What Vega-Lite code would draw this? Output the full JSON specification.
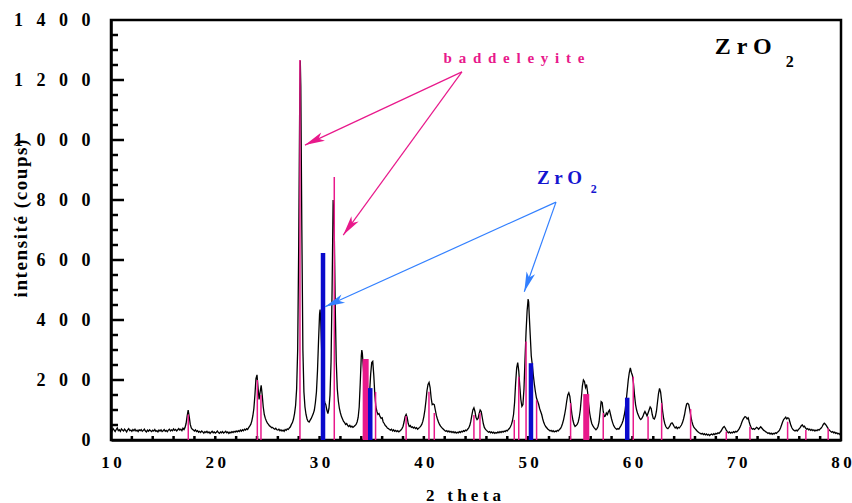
{
  "$schema": "https://vega.github.io/schema/vega-lite/v6.json",
  "width": 730,
  "height": 420,
  "autosize": "none",
  "padding": {"left": 111, "top": 20, "right": 11, "bottom": 63},
  "background": "white",
  "config": {"view": {"stroke": "black", "strokeWidth": 2.5}},
  "resolve": {"scale": {"x": "shared", "y": "shared"}, "axis": {"x": "independent", "y": "independent"}},
  "datasets": {
    "pattern": [
      {"t":10.0,"c":36},{"t":10.1,"c":30},{"t":10.2,"c":38},{"t":10.3,"c":33},{"t":10.4,"c":28},{"t":10.5,"c":35},{"t":10.6,"c":40},{"t":10.7,"c":31},{"t":10.8,"c":34},{"t":10.9,"c":29},
      {"t":11.0,"c":37},{"t":11.1,"c":33},{"t":11.2,"c":30},{"t":11.3,"c":36},{"t":11.4,"c":32},{"t":11.5,"c":27},{"t":11.6,"c":34},{"t":11.7,"c":38},{"t":11.8,"c":31},{"t":11.9,"c":33},
      {"t":12.0,"c":29},{"t":12.1,"c":35},{"t":12.2,"c":31},{"t":12.3,"c":36},{"t":12.4,"c":30},{"t":12.5,"c":33},{"t":12.6,"c":28},{"t":12.7,"c":34},{"t":12.8,"c":31},{"t":12.9,"c":35},
      {"t":13.0,"c":29},{"t":13.1,"c":32},{"t":13.2,"c":36},{"t":13.3,"c":30},{"t":13.4,"c":27},{"t":13.5,"c":33},{"t":13.6,"c":29},{"t":13.7,"c":34},{"t":13.8,"c":31},{"t":13.9,"c":28},
      {"t":14.0,"c":33},{"t":14.1,"c":30},{"t":14.2,"c":35},{"t":14.3,"c":29},{"t":14.4,"c":31},{"t":14.5,"c":27},{"t":14.6,"c":33},{"t":14.7,"c":30},{"t":14.8,"c":34},{"t":14.9,"c":28},
      {"t":15.0,"c":31},{"t":15.1,"c":35},{"t":15.2,"c":29},{"t":15.3,"c":32},{"t":15.4,"c":28},{"t":15.5,"c":33},{"t":15.6,"c":36},{"t":15.7,"c":30},{"t":15.8,"c":34},{"t":15.9,"c":31},
      {"t":16.0,"c":37},{"t":16.1,"c":32},{"t":16.2,"c":35},{"t":16.3,"c":30},{"t":16.4,"c":34},{"t":16.5,"c":38},{"t":16.6,"c":33},{"t":16.7,"c":36},{"t":16.8,"c":31},{"t":16.9,"c":39},
      {"t":17.0,"c":35},{"t":17.1,"c":42},{"t":17.2,"c":55},{"t":17.3,"c":80},{"t":17.4,"c":100},{"t":17.5,"c":78},{"t":17.6,"c":52},{"t":17.7,"c":40},{"t":17.8,"c":36},{"t":17.9,"c":33},
      {"t":18.0,"c":30},{"t":18.1,"c":34},{"t":18.2,"c":28},{"t":18.3,"c":31},{"t":18.4,"c":26},{"t":18.5,"c":29},{"t":18.6,"c":25},{"t":18.7,"c":30},{"t":18.8,"c":27},{"t":18.9,"c":23},
      {"t":19.0,"c":28},{"t":19.1,"c":25},{"t":19.2,"c":29},{"t":19.3,"c":24},{"t":19.4,"c":27},{"t":19.5,"c":22},{"t":19.6,"c":26},{"t":19.7,"c":29},{"t":19.8,"c":24},{"t":19.9,"c":27},
      {"t":20.0,"c":23},{"t":20.1,"c":26},{"t":20.2,"c":30},{"t":20.3,"c":25},{"t":20.4,"c":22},{"t":20.5,"c":27},{"t":20.6,"c":24},{"t":20.7,"c":28},{"t":20.8,"c":23},{"t":20.9,"c":26},
      {"t":21.0,"c":29},{"t":21.1,"c":24},{"t":21.2,"c":27},{"t":21.3,"c":22},{"t":21.4,"c":26},{"t":21.5,"c":24},{"t":21.6,"c":28},{"t":21.7,"c":25},{"t":21.8,"c":29},{"t":21.9,"c":26},
      {"t":22.0,"c":30},{"t":22.1,"c":27},{"t":22.2,"c":31},{"t":22.3,"c":28},{"t":22.4,"c":33},{"t":22.5,"c":29},{"t":22.6,"c":34},{"t":22.7,"c":31},{"t":22.8,"c":36},{"t":22.9,"c":33},
      {"t":23.0,"c":38},{"t":23.1,"c":35},{"t":23.2,"c":41},{"t":23.3,"c":46},{"t":23.4,"c":52},{"t":23.5,"c":63},{"t":23.6,"c":80},{"t":23.7,"c":105},{"t":23.8,"c":150},{"t":23.9,"c":205},
      {"t":24.0,"c":217},{"t":24.1,"c":175},{"t":24.2,"c":135},{"t":24.3,"c":160},{"t":24.4,"c":182},{"t":24.5,"c":150},{"t":24.6,"c":110},{"t":24.7,"c":85},{"t":24.8,"c":72},{"t":24.9,"c":63},
      {"t":25.0,"c":56},{"t":25.1,"c":52},{"t":25.2,"c":47},{"t":25.3,"c":45},{"t":25.4,"c":41},{"t":25.5,"c":42},{"t":25.6,"c":38},{"t":25.7,"c":36},{"t":25.8,"c":39},{"t":25.9,"c":34},
      {"t":26.0,"c":33},{"t":26.1,"c":36},{"t":26.2,"c":31},{"t":26.3,"c":34},{"t":26.4,"c":30},{"t":26.5,"c":33},{"t":26.6,"c":29},{"t":26.7,"c":35},{"t":26.8,"c":32},{"t":26.9,"c":37},
      {"t":27.0,"c":35},{"t":27.1,"c":40},{"t":27.2,"c":44},{"t":27.3,"c":52},{"t":27.4,"c":58},{"t":27.5,"c":70},{"t":27.6,"c":88},{"t":27.7,"c":115},{"t":27.8,"c":170},{"t":27.9,"c":300},
      {"t":28.0,"c":650},{"t":28.1,"c":1150},{"t":28.15,"c":1265},{"t":28.2,"c":1180},{"t":28.3,"c":700},{"t":28.4,"c":300},{"t":28.5,"c":160},{"t":28.6,"c":110},{"t":28.7,"c":85},{"t":28.8,"c":70},{"t":28.9,"c":62},
      {"t":29.0,"c":60},{"t":29.1,"c":66},{"t":29.2,"c":72},{"t":29.3,"c":80},{"t":29.4,"c":88},{"t":29.5,"c":100},{"t":29.6,"c":125},{"t":29.7,"c":160},{"t":29.8,"c":230},{"t":29.9,"c":330},
      {"t":30.0,"c":420},{"t":30.05,"c":435},{"t":30.1,"c":410},{"t":30.2,"c":300},{"t":30.3,"c":190},{"t":30.4,"c":140},{"t":30.5,"c":125},{"t":30.6,"c":118},{"t":30.7,"c":100},{"t":30.8,"c":88},{"t":30.9,"c":105},
      {"t":31.0,"c":150},{"t":31.1,"c":260},{"t":31.2,"c":500},{"t":31.3,"c":800},{"t":31.4,"c":720},{"t":31.5,"c":450},{"t":31.6,"c":260},{"t":31.7,"c":170},{"t":31.8,"c":130},{"t":31.9,"c":105},
      {"t":32.0,"c":90},{"t":32.1,"c":78},{"t":32.2,"c":70},{"t":32.3,"c":62},{"t":32.4,"c":58},{"t":32.5,"c":52},{"t":32.6,"c":55},{"t":32.7,"c":48},{"t":32.8,"c":45},{"t":32.9,"c":49},
      {"t":33.0,"c":43},{"t":33.1,"c":46},{"t":33.2,"c":42},{"t":33.3,"c":45},{"t":33.4,"c":48},{"t":33.5,"c":52},{"t":33.6,"c":60},{"t":33.7,"c":75},{"t":33.8,"c":110},{"t":33.9,"c":190},
      {"t":34.0,"c":280},{"t":34.05,"c":300},{"t":34.1,"c":290},{"t":34.2,"c":240},{"t":34.3,"c":180},{"t":34.4,"c":140},{"t":34.5,"c":120},{"t":34.6,"c":112},{"t":34.7,"c":125},{"t":34.8,"c":160},{"t":34.9,"c":220},
      {"t":35.0,"c":258},{"t":35.1,"c":262},{"t":35.2,"c":215},{"t":35.3,"c":150},{"t":35.4,"c":110},{"t":35.5,"c":95},{"t":35.6,"c":85},{"t":35.7,"c":88},{"t":35.8,"c":78},{"t":35.9,"c":72},
      {"t":36.0,"c":74},{"t":36.1,"c":60},{"t":36.2,"c":55},{"t":36.3,"c":48},{"t":36.4,"c":45},{"t":36.5,"c":40},{"t":36.6,"c":38},{"t":36.7,"c":35},{"t":36.8,"c":33},{"t":36.9,"c":36},
      {"t":37.0,"c":30},{"t":37.1,"c":34},{"t":37.2,"c":29},{"t":37.3,"c":32},{"t":37.4,"c":28},{"t":37.5,"c":31},{"t":37.6,"c":27},{"t":37.7,"c":30},{"t":37.8,"c":33},{"t":37.9,"c":38},
      {"t":38.0,"c":45},{"t":38.1,"c":60},{"t":38.2,"c":78},{"t":38.3,"c":85},{"t":38.4,"c":75},{"t":38.5,"c":55},{"t":38.6,"c":45},{"t":38.7,"c":48},{"t":38.8,"c":42},{"t":38.9,"c":44},
      {"t":39.0,"c":40},{"t":39.1,"c":43},{"t":39.2,"c":38},{"t":39.3,"c":41},{"t":39.4,"c":36},{"t":39.5,"c":39},{"t":39.6,"c":42},{"t":39.7,"c":46},{"t":39.8,"c":52},{"t":39.9,"c":62},
      {"t":40.0,"c":78},{"t":40.1,"c":100},{"t":40.2,"c":130},{"t":40.3,"c":165},{"t":40.4,"c":185},{"t":40.5,"c":192},{"t":40.6,"c":175},{"t":40.7,"c":140},{"t":40.8,"c":118},{"t":40.9,"c":120},
      {"t":41.0,"c":118},{"t":41.1,"c":100},{"t":41.2,"c":82},{"t":41.3,"c":70},{"t":41.4,"c":60},{"t":41.5,"c":52},{"t":41.6,"c":46},{"t":41.7,"c":42},{"t":41.8,"c":38},{"t":41.9,"c":35},
      {"t":42.0,"c":32},{"t":42.1,"c":29},{"t":42.2,"c":31},{"t":42.3,"c":27},{"t":42.4,"c":30},{"t":42.5,"c":26},{"t":42.6,"c":29},{"t":42.7,"c":25},{"t":42.8,"c":28},{"t":42.9,"c":24},
      {"t":43.0,"c":27},{"t":43.1,"c":23},{"t":43.2,"c":26},{"t":43.3,"c":24},{"t":43.4,"c":28},{"t":43.5,"c":25},{"t":43.6,"c":29},{"t":43.7,"c":27},{"t":43.8,"c":31},{"t":43.9,"c":29},
      {"t":44.0,"c":33},{"t":44.1,"c":31},{"t":44.2,"c":36},{"t":44.3,"c":40},{"t":44.4,"c":48},{"t":44.5,"c":62},{"t":44.6,"c":82},{"t":44.7,"c":100},{"t":44.8,"c":107},{"t":44.9,"c":95},
      {"t":45.0,"c":75},{"t":45.1,"c":68},{"t":45.2,"c":72},{"t":45.3,"c":88},{"t":45.4,"c":100},{"t":45.5,"c":95},{"t":45.6,"c":75},{"t":45.7,"c":55},{"t":45.8,"c":42},{"t":45.9,"c":36},
      {"t":46.0,"c":32},{"t":46.1,"c":29},{"t":46.2,"c":26},{"t":46.3,"c":28},{"t":46.4,"c":24},{"t":46.5,"c":27},{"t":46.6,"c":23},{"t":46.7,"c":26},{"t":46.8,"c":22},{"t":46.9,"c":25},
      {"t":47.0,"c":23},{"t":47.1,"c":27},{"t":47.2,"c":24},{"t":47.3,"c":28},{"t":47.4,"c":25},{"t":47.5,"c":29},{"t":47.6,"c":26},{"t":47.7,"c":30},{"t":47.8,"c":28},{"t":47.9,"c":32},
      {"t":48.0,"c":30},{"t":48.1,"c":35},{"t":48.2,"c":38},{"t":48.3,"c":44},{"t":48.4,"c":52},{"t":48.5,"c":65},{"t":48.6,"c":85},{"t":48.7,"c":125},{"t":48.8,"c":190},{"t":48.9,"c":240},
      {"t":49.0,"c":258},{"t":49.1,"c":230},{"t":49.2,"c":180},{"t":49.3,"c":135},{"t":49.4,"c":112},{"t":49.5,"c":118},{"t":49.6,"c":170},{"t":49.7,"c":270},{"t":49.8,"c":360},{"t":49.9,"c":430},
      {"t":50.0,"c":470},{"t":50.05,"c":460},{"t":50.1,"c":420},{"t":50.2,"c":350},{"t":50.3,"c":280},{"t":50.4,"c":250},{"t":50.5,"c":215},{"t":50.6,"c":185},{"t":50.7,"c":160},{"t":50.8,"c":140},{"t":50.9,"c":130},
      {"t":51.0,"c":120},{"t":51.1,"c":105},{"t":51.2,"c":95},{"t":51.3,"c":85},{"t":51.4,"c":70},{"t":51.5,"c":58},{"t":51.6,"c":50},{"t":51.7,"c":44},{"t":51.8,"c":40},{"t":51.9,"c":36},
      {"t":52.0,"c":33},{"t":52.1,"c":30},{"t":52.2,"c":32},{"t":52.3,"c":28},{"t":52.4,"c":31},{"t":52.5,"c":27},{"t":52.6,"c":30},{"t":52.7,"c":28},{"t":52.8,"c":32},{"t":52.9,"c":30},
      {"t":53.0,"c":35},{"t":53.1,"c":38},{"t":53.2,"c":45},{"t":53.3,"c":55},{"t":53.4,"c":68},{"t":53.5,"c":85},{"t":53.6,"c":105},{"t":53.7,"c":130},{"t":53.8,"c":150},{"t":53.9,"c":157},
      {"t":54.0,"c":145},{"t":54.1,"c":115},{"t":54.2,"c":85},{"t":54.3,"c":65},{"t":54.4,"c":52},{"t":54.5,"c":45},{"t":54.6,"c":48},{"t":54.7,"c":52},{"t":54.8,"c":60},{"t":54.9,"c":75},
      {"t":55.0,"c":100},{"t":55.1,"c":140},{"t":55.2,"c":180},{"t":55.3,"c":200},{"t":55.4,"c":195},{"t":55.5,"c":175},{"t":55.6,"c":185},{"t":55.7,"c":160},{"t":55.8,"c":120},{"t":55.9,"c":90},
      {"t":56.0,"c":70},{"t":56.1,"c":55},{"t":56.2,"c":48},{"t":56.3,"c":42},{"t":56.4,"c":38},{"t":56.5,"c":34},{"t":56.6,"c":38},{"t":56.7,"c":45},{"t":56.8,"c":60},{"t":56.9,"c":95},
      {"t":57.0,"c":128},{"t":57.1,"c":125},{"t":57.2,"c":95},{"t":57.3,"c":78},{"t":57.4,"c":80},{"t":57.5,"c":90},{"t":57.6,"c":85},{"t":57.7,"c":95},{"t":57.8,"c":100},{"t":57.9,"c":85},
      {"t":58.0,"c":70},{"t":58.1,"c":58},{"t":58.2,"c":48},{"t":58.3,"c":42},{"t":58.4,"c":38},{"t":58.5,"c":35},{"t":58.6,"c":38},{"t":58.7,"c":36},{"t":58.8,"c":42},{"t":58.9,"c":48},
      {"t":59.0,"c":55},{"t":59.1,"c":65},{"t":59.2,"c":80},{"t":59.3,"c":100},{"t":59.4,"c":130},{"t":59.5,"c":165},{"t":59.6,"c":200},{"t":59.7,"c":225},{"t":59.8,"c":240},{"t":59.9,"c":225},
      {"t":60.0,"c":215},{"t":60.1,"c":190},{"t":60.2,"c":150},{"t":60.3,"c":118},{"t":60.4,"c":100},{"t":60.5,"c":88},{"t":60.6,"c":80},{"t":60.7,"c":72},{"t":60.8,"c":68},{"t":60.9,"c":72},
      {"t":61.0,"c":78},{"t":61.1,"c":88},{"t":61.2,"c":95},{"t":61.3,"c":88},{"t":61.4,"c":80},{"t":61.5,"c":90},{"t":61.6,"c":100},{"t":61.7,"c":110},{"t":61.8,"c":105},{"t":61.9,"c":85},
      {"t":62.0,"c":72},{"t":62.1,"c":70},{"t":62.2,"c":78},{"t":62.3,"c":95},{"t":62.4,"c":125},{"t":62.5,"c":155},{"t":62.6,"c":172},{"t":62.7,"c":160},{"t":62.8,"c":130},{"t":62.9,"c":95},
      {"t":63.0,"c":70},{"t":63.1,"c":55},{"t":63.2,"c":45},{"t":63.3,"c":40},{"t":63.4,"c":38},{"t":63.5,"c":42},{"t":63.6,"c":48},{"t":63.7,"c":55},{"t":63.8,"c":57},{"t":63.9,"c":52},
      {"t":64.0,"c":45},{"t":64.1,"c":40},{"t":64.2,"c":44},{"t":64.3,"c":38},{"t":64.4,"c":42},{"t":64.5,"c":40},{"t":64.6,"c":45},{"t":64.7,"c":50},{"t":64.8,"c":58},{"t":64.9,"c":70},
      {"t":65.0,"c":85},{"t":65.1,"c":105},{"t":65.2,"c":120},{"t":65.3,"c":122},{"t":65.4,"c":118},{"t":65.5,"c":100},{"t":65.6,"c":80},{"t":65.7,"c":62},{"t":65.8,"c":50},{"t":65.9,"c":42},
      {"t":66.0,"c":38},{"t":66.1,"c":34},{"t":66.2,"c":30},{"t":66.3,"c":27},{"t":66.4,"c":24},{"t":66.5,"c":22},{"t":66.6,"c":20},{"t":66.7,"c":22},{"t":66.8,"c":18},{"t":66.9,"c":21},
      {"t":67.0,"c":17},{"t":67.1,"c":20},{"t":67.2,"c":16},{"t":67.3,"c":19},{"t":67.4,"c":15},{"t":67.5,"c":18},{"t":67.6,"c":20},{"t":67.7,"c":17},{"t":67.8,"c":21},{"t":67.9,"c":18},
      {"t":68.0,"c":22},{"t":68.1,"c":20},{"t":68.2,"c":24},{"t":68.3,"c":22},{"t":68.4,"c":26},{"t":68.5,"c":30},{"t":68.6,"c":36},{"t":68.7,"c":42},{"t":68.8,"c":45},{"t":68.9,"c":40},
      {"t":69.0,"c":33},{"t":69.1,"c":28},{"t":69.2,"c":24},{"t":69.3,"c":27},{"t":69.4,"c":23},{"t":69.5,"c":26},{"t":69.6,"c":24},{"t":69.7,"c":28},{"t":69.8,"c":25},{"t":69.9,"c":29},
      {"t":70.0,"c":27},{"t":70.1,"c":31},{"t":70.2,"c":35},{"t":70.3,"c":42},{"t":70.4,"c":50},{"t":70.5,"c":60},{"t":70.6,"c":68},{"t":70.7,"c":74},{"t":70.8,"c":78},{"t":70.9,"c":76},
      {"t":71.0,"c":70},{"t":71.1,"c":74},{"t":71.2,"c":60},{"t":71.3,"c":48},{"t":71.4,"c":40},{"t":71.5,"c":36},{"t":71.6,"c":38},{"t":71.7,"c":35},{"t":71.8,"c":38},{"t":71.9,"c":42},
      {"t":72.0,"c":40},{"t":72.1,"c":36},{"t":72.2,"c":40},{"t":72.3,"c":44},{"t":72.4,"c":40},{"t":72.5,"c":36},{"t":72.6,"c":32},{"t":72.7,"c":30},{"t":72.8,"c":27},{"t":72.9,"c":25},
      {"t":73.0,"c":22},{"t":73.1,"c":24},{"t":73.2,"c":20},{"t":73.3,"c":23},{"t":73.4,"c":19},{"t":73.5,"c":22},{"t":73.6,"c":20},{"t":73.7,"c":24},{"t":73.8,"c":22},{"t":73.9,"c":26},
      {"t":74.0,"c":28},{"t":74.1,"c":33},{"t":74.2,"c":40},{"t":74.3,"c":50},{"t":74.4,"c":60},{"t":74.5,"c":68},{"t":74.6,"c":72},{"t":74.7,"c":76},{"t":74.8,"c":70},{"t":74.9,"c":74},
      {"t":75.0,"c":72},{"t":75.1,"c":60},{"t":75.2,"c":48},{"t":75.3,"c":40},{"t":75.4,"c":35},{"t":75.5,"c":32},{"t":75.6,"c":30},{"t":75.7,"c":33},{"t":75.8,"c":30},{"t":75.9,"c":34},
      {"t":76.0,"c":38},{"t":76.1,"c":42},{"t":76.2,"c":48},{"t":76.3,"c":50},{"t":76.4,"c":44},{"t":76.5,"c":46},{"t":76.6,"c":40},{"t":76.7,"c":36},{"t":76.8,"c":38},{"t":76.9,"c":34},
      {"t":77.0,"c":36},{"t":77.1,"c":32},{"t":77.2,"c":35},{"t":77.3,"c":31},{"t":77.4,"c":34},{"t":77.5,"c":30},{"t":77.6,"c":33},{"t":77.7,"c":31},{"t":77.8,"c":35},{"t":77.9,"c":33},
      {"t":78.0,"c":37},{"t":78.1,"c":40},{"t":78.2,"c":45},{"t":78.3,"c":52},{"t":78.4,"c":56},{"t":78.5,"c":53},{"t":78.6,"c":48},{"t":78.7,"c":42},{"t":78.8,"c":36},{"t":78.9,"c":32},
      {"t":79.0,"c":29},{"t":79.1,"c":26},{"t":79.2,"c":28},{"t":79.3,"c":24},{"t":79.4,"c":26},{"t":79.5,"c":22},{"t":79.6,"c":24},{"t":79.7,"c":20},{"t":79.8,"c":22},{"t":79.9,"c":18},{"t":80.0,"c":20}
    ],
    "sticks": [
      {"t":17.41,"h":85},{"t":24.03,"h":200},{"t":24.38,"h":150},{"t":28.12,"h":1267},{"t":31.41,"h":877},
      {"t":35.37,"h":160},{"t":38.3,"h":80},{"t":40.49,"h":161},{"t":41.0,"h":90},{"t":44.8,"h":83},
      {"t":45.38,"h":90},{"t":48.67,"h":67},{"t":49.1,"h":211},{"t":49.8,"h":328},{"t":50.81,"h":133},
      {"t":54.07,"h":123},{"t":57.2,"h":90},{"t":60.08,"h":211},{"t":61.5,"h":78},{"t":62.8,"h":123},
      {"t":65.58,"h":103},{"t":69.0,"h":28},{"t":71.27,"h":44},{"t":74.88,"h":61},{"t":76.63,"h":33},{"t":78.77,"h":39}
    ],
    "pinkbars": [{"t":34.42,"h":270},{"t":55.57,"h":153}],
    "bluebars": [{"t":30.33,"h":623},{"t":34.86,"h":173},{"t":50.27,"h":256},{"t":59.5,"h":141}],
    "arrows": [
      {"id":"p1","x":43.65,"y":1227,"x2":28.6,"y2":983},
      {"id":"p2","x":43.65,"y":1227,"x2":32.27,"y2":683},
      {"id":"b1","x":52.67,"y":793,"x2":30.52,"y2":444},
      {"id":"b2","x":52.67,"y":793,"x2":49.63,"y2":494}
    ],
    "yminor": [{"v":50},{"v":100},{"v":150},{"v":250},{"v":300},{"v":350},{"v":450},{"v":500},{"v":550},{"v":650},{"v":700},{"v":750},{"v":850},{"v":900},{"v":950},{"v":1050},{"v":1100},{"v":1150},{"v":1250},{"v":1300},{"v":1350}],
    "ymajor": [{"v":200},{"v":400},{"v":600},{"v":800},{"v":1000},{"v":1200}],
    "xticks": [{"v":12},{"v":14},{"v":16},{"v":18},{"v":20},{"v":22},{"v":24},{"v":26},{"v":28},{"v":30},{"v":32},{"v":34},{"v":36},{"v":38},{"v":40},{"v":42},{"v":44},{"v":46},{"v":48},{"v":50},{"v":52},{"v":54},{"v":56},{"v":58},{"v":60},{"v":62},{"v":64},{"v":66},{"v":68},{"v":70},{"v":72},{"v":74},{"v":76},{"v":78}]
  },
  "layer": [
    {
      "data": {"name": "pattern"},
      "mark": {"type": "line", "color": "black", "strokeWidth": 1.3},
      "encoding": {
        "x": {"field": "t", "type": "quantitative",
          "scale": {"domain": [10, 80], "nice": false, "zero": false},
          "axis": {
            "orient": "bottom",
            "values": [10,20,30,40,50,60,70,80],
            "format": "d",
            "labelExpr": "join(split(datum.label, ''), '\u2009')",
            "labelFont": "Liberation Serif", "labelFontWeight": "bold", "labelFontSize": 17, "labelColor": "black",
            "labelPadding": 14, "labelFlush": false, "labelOverlap": false, "labelBound": false,
            "ticks": false,
            "domainColor": "black", "domainWidth": 2.5, "grid": false,
            "title": "2\u2002 t h e t a", "titleFont": "Liberation Serif", "titleFontWeight": "bold", "titleFontSize": 17, "titleColor": "black",
            "titleX": 352, "titleY": 60, "titleAlign": "center", "titleBaseline": "alphabetic"
          }
        },
        "y": {"field": "c", "type": "quantitative",
          "scale": {"domain": [0, 1400], "nice": false},
          "axis": {
            "orient": "left",
            "values": [0,200,400,600,800,1000,1200,1400],
            "format": "d",
            "labelExpr": "join(split(datum.label, ''), '\u2002 ')",
            "labelFont": "Liberation Serif", "labelFontWeight": "bold", "labelFontSize": 18, "labelColor": "black",
            "labelPadding": 21, "labelOverlap": false, "labelBound": false, "labelFlush": false,
            "ticks": false,
            "domainColor": "black", "domainWidth": 2.5, "grid": false,
            "title": "i\u200an\u200at\u200ae\u200an\u200as\u200ai\u200at\u200aé\u200a \u200a(\u200ac\u200ao\u200au\u200ap\u200as\u200a)", "titleFont": "Liberation Serif", "titleFontWeight": "bold", "titleFontSize": 19, "titleColor": "black",
            "titleX": -91, "titleY": 198, "titleAngle": -90, "titleAlign": "center", "titleBaseline": "middle"
          }
        }
      }
    },
    {
      "data": {"name": "yminor"},
      "mark": {"type": "tick", "orient": "horizontal", "size": 7, "thickness": 2.5, "color": "black", "opacity": 1, "xOffset": 3.5},
      "encoding": {
        "y": {"field": "v", "type": "quantitative", "axis": null},
        "x": {"datum": 10, "type": "quantitative", "axis": null}
      }
    },
    {
      "data": {"name": "ymajor"},
      "mark": {"type": "tick", "orient": "horizontal", "size": 13, "thickness": 2.5, "color": "black", "opacity": 1, "xOffset": 6.5},
      "encoding": {
        "y": {"field": "v", "type": "quantitative", "axis": null},
        "x": {"datum": 10, "type": "quantitative", "axis": null}
      }
    },
    {
      "data": {"name": "xticks"},
      "mark": {"type": "tick", "orient": "vertical", "size": 4, "thickness": 2.5, "color": "black", "opacity": 1, "yOffset": -2},
      "encoding": {
        "x": {"field": "v", "type": "quantitative", "axis": null},
        "y": {"datum": 0, "type": "quantitative", "axis": null}
      }
    },
    {
      "data": {"name": "sticks"},
      "mark": {"type": "rule", "color": "#E8198B", "strokeWidth": 1.5},
      "encoding": {
        "x": {"field": "t", "type": "quantitative", "axis": null},
        "y": {"field": "h", "type": "quantitative", "axis": null},
        "y2": {"datum": 0}
      }
    },
    {
      "data": {"name": "pinkbars"},
      "mark": {"type": "rule", "color": "#E8198B", "strokeWidth": 6},
      "encoding": {
        "x": {"field": "t", "type": "quantitative", "axis": null},
        "y": {"field": "h", "type": "quantitative", "axis": null},
        "y2": {"datum": 0}
      }
    },
    {
      "data": {"name": "bluebars"},
      "mark": {"type": "rule", "color": "#0A0ACC", "strokeWidth": 4.5},
      "encoding": {
        "x": {"field": "t", "type": "quantitative", "axis": null},
        "y": {"field": "h", "type": "quantitative", "axis": null},
        "y2": {"datum": 0}
      }
    },
    {
      "data": {"name": "arrows"},
      "transform": [{"filter": "datum.id[0] === 'p'"}],
      "mark": {"type": "rule", "color": "#E8198B", "strokeWidth": 1.2},
      "encoding": {
        "x": {"field": "x", "type": "quantitative", "axis": null},
        "y": {"field": "y", "type": "quantitative", "axis": null},
        "x2": {"field": "x2"},
        "y2": {"field": "y2"}
      }
    },
    {
      "data": {"name": "arrows"},
      "transform": [{"filter": "datum.id[0] === 'b'"}],
      "mark": {"type": "rule", "color": "#3380FF", "strokeWidth": 1.2},
      "encoding": {
        "x": {"field": "x", "type": "quantitative", "axis": null},
        "y": {"field": "y", "type": "quantitative", "axis": null},
        "x2": {"field": "x2"},
        "y2": {"field": "y2"}
      }
    },
    {
      "data": {"name": "arrows"},
      "transform": [{"filter": "datum.id === 'p1'"}],
      "mark": {"type": "point", "shape": "M0,0L0.45,2L0,1.5L-0.45,2Z", "size": 400, "filled": true, "opacity": 1, "color": "#E8198B", "strokeWidth": 0, "angle": 245},
      "encoding": {"x": {"field": "x2", "type": "quantitative", "axis": null}, "y": {"field": "y2", "type": "quantitative", "axis": null}}
    },
    {
      "data": {"name": "arrows"},
      "transform": [{"filter": "datum.id === 'p2'"}],
      "mark": {"type": "point", "shape": "M0,0L0.45,2L0,1.5L-0.45,2Z", "size": 400, "filled": true, "opacity": 1, "color": "#E8198B", "strokeWidth": 0, "angle": 216},
      "encoding": {"x": {"field": "x2", "type": "quantitative", "axis": null}, "y": {"field": "y2", "type": "quantitative", "axis": null}}
    },
    {
      "data": {"name": "arrows"},
      "transform": [{"filter": "datum.id === 'b1'"}],
      "mark": {"type": "point", "shape": "M0,0L0.45,2L0,1.5L-0.45,2Z", "size": 400, "filled": true, "opacity": 1, "color": "#3380FF", "strokeWidth": 0, "angle": 246},
      "encoding": {"x": {"field": "x2", "type": "quantitative", "axis": null}, "y": {"field": "y2", "type": "quantitative", "axis": null}}
    },
    {
      "data": {"name": "arrows"},
      "transform": [{"filter": "datum.id === 'b2'"}],
      "mark": {"type": "point", "shape": "M0,0L0.45,2L0,1.5L-0.45,2Z", "size": 400, "filled": true, "opacity": 1, "color": "#3380FF", "strokeWidth": 0, "angle": 199},
      "encoding": {"x": {"field": "x2", "type": "quantitative", "axis": null}, "y": {"field": "y2", "type": "quantitative", "axis": null}}
    },
    {
      "data": {"values": [{"x": 48.64, "y": 1257, "s": "b \u2009a \u2009d \u2009d \u2009e \u2009l \u2009e \u2009y \u2009i \u2009t \u2009e"}]},
      "mark": {"type": "text", "font": "Liberation Serif", "fontWeight": "bold", "fontSize": 15, "color": "#E8198B", "align": "center", "baseline": "alphabetic"},
      "encoding": {"x": {"field": "x", "type": "quantitative", "axis": null}, "y": {"field": "y", "type": "quantitative", "axis": null}, "text": {"field": "s"}}
    },
    {
      "data": {"values": [{"x": 67.9, "y": 1287, "s": "Z r O"}]},
      "mark": {"type": "text", "font": "Liberation Serif", "fontWeight": "bold", "fontSize": 24, "color": "black", "align": "left", "baseline": "alphabetic"},
      "encoding": {"x": {"field": "x", "type": "quantitative", "axis": null}, "y": {"field": "y", "type": "quantitative", "axis": null}, "text": {"field": "s"}}
    },
    {
      "data": {"values": [{"x": 74.7, "y": 1245, "s": "2"}]},
      "mark": {"type": "text", "font": "Liberation Serif", "fontWeight": "bold", "fontSize": 16, "color": "black", "align": "left", "baseline": "alphabetic"},
      "encoding": {"x": {"field": "x", "type": "quantitative", "axis": null}, "y": {"field": "y", "type": "quantitative", "axis": null}, "text": {"field": "s"}}
    },
    {
      "data": {"values": [{"x": 50.84, "y": 853, "s": "Z r O"}]},
      "mark": {"type": "text", "font": "Liberation Serif", "fontWeight": "bold", "fontSize": 19, "color": "#1515D0", "align": "left", "baseline": "alphabetic"},
      "encoding": {"x": {"field": "x", "type": "quantitative", "axis": null}, "y": {"field": "y", "type": "quantitative", "axis": null}, "text": {"field": "s"}}
    },
    {
      "data": {"values": [{"x": 56.0, "y": 823, "s": "2"}]},
      "mark": {"type": "text", "font": "Liberation Serif", "fontWeight": "bold", "fontSize": 12, "color": "#1515D0", "align": "left", "baseline": "alphabetic"},
      "encoding": {"x": {"field": "x", "type": "quantitative", "axis": null}, "y": {"field": "y", "type": "quantitative", "axis": null}, "text": {"field": "s"}}
    }
  ]
}
